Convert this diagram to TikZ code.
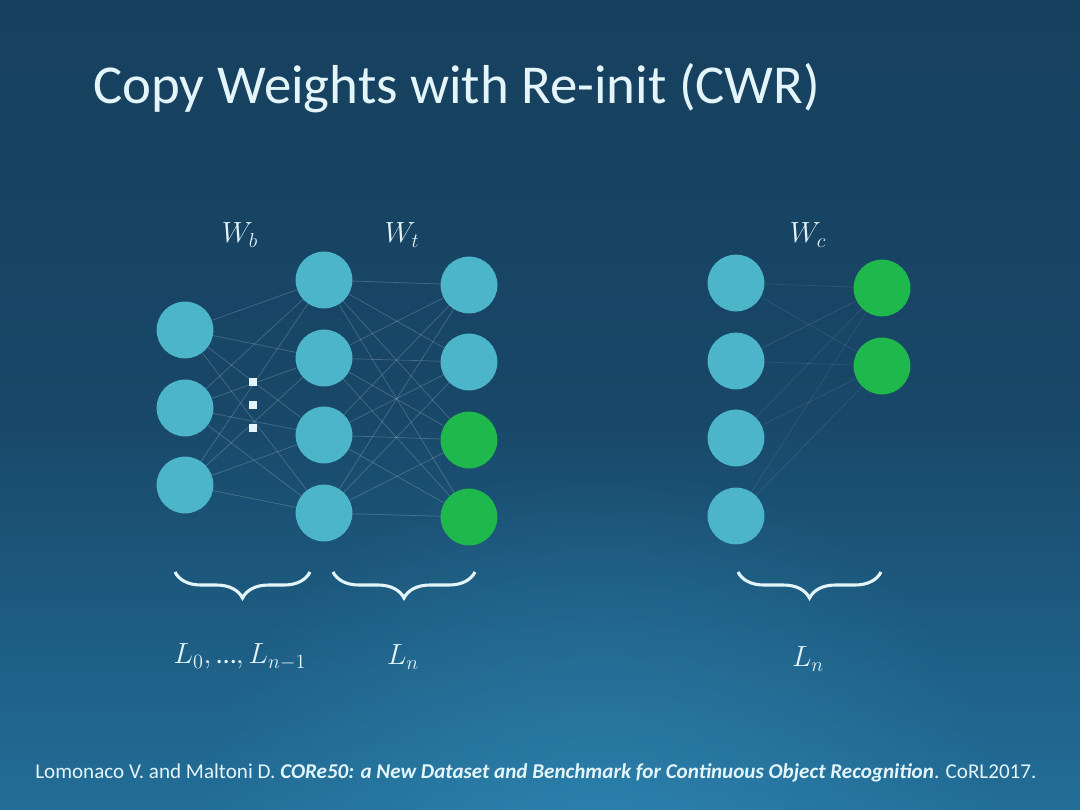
\documentclass[tikz,border=0pt]{standalone}
\usepackage{amsmath}
\usepackage{fontspec}
\setmainfont{Carlito}
\usetikzlibrary{decorations.pathreplacing,fadings}
\definecolor{bgtop}{HTML}{17405E}
\definecolor{bgmid}{HTML}{184767}
\definecolor{bgbot}{HTML}{226E98}
\definecolor{bglight}{HTML}{3B9DCB}
\definecolor{text}{HTML}{E4F5FA}
\definecolor{cellblue}{HTML}{4CB5CA}
\definecolor{cellgreen}{HTML}{1EB84C}
\tikzfading[name=glow, inner color=transparent!0, outer color=transparent!100]
\tikzset{
  unit/.style={circle, fill=cellblue, minimum size=1.42cm, inner sep=0pt},
  fresh/.style={unit, fill=cellgreen},
  wire/.style={draw=white, draw opacity=0.2, line width=0.5pt},
  faint/.style={draw=white, draw opacity=0.09, line width=0.5pt},
  brc/.style={draw=text, line width=2.2pt, decorate,
    decoration={brace, mirror, amplitude=0.65cm}},
  labw/.style={text=text, font=\fontsize{20}{24}\selectfont},
  dotsq/.style={fill=text, minimum size=0.18cm, inner sep=0pt},
  every node/.style={text=text}
}

\begin{document}
\begin{tikzpicture}[x=0.025cm, y=-0.025cm]
  \useasboundingbox (0,0) rectangle (1080,810);
  % slide background
  \begin{scope}
    \clip (0,0) rectangle (1080,810);
    \shade[top color=bgtop, bottom color=bgbot, middle color=bgmid] (0,0) rectangle (1080,810);
    \fill[bglight, path fading=glow, fill opacity=0.45] (600,880) circle (420);
  \end{scope}

  \node[anchor=base west, inner sep=0pt, font=\fontsize{39}{46}\selectfont, text=text]
    (title) at (93,103) {Copy Weights with Re-init (CWR)};

  % old network
  \foreach \y [count=\i] in {330,408,485}
    \node[unit] (a\i) at (185,\y) {};
  \foreach \y [count=\i] in {280,358,435,513}
    \node[unit] (b\i) at (324,\y) {};
  \node[unit] (c1) at (469,285) {};
  \node[unit] (c2) at (469,362) {};
  \node[fresh] (c3) at (469,440) {};
  \node[fresh] (c4) at (469,517) {};

  \foreach \i in {1,2,3}
    \foreach \j in {1,...,4}
      \draw[wire] (a\i) -- (b\j);
  \foreach \i in {1,...,4}
    \foreach \j in {1,...,4}
      \draw[wire] (b\i) -- (c\j);

  \foreach \y [count=\i] in {382,405,428}
    \node[dotsq] (d\i) at (253,\y) {};

  % consolidated head
  \foreach \y [count=\i] in {283,361,438,516}
    \node[unit] (e\i) at (736,\y) {};
  \node[fresh] (f1) at (882,288) {};
  \node[fresh] (f2) at (882,366) {};
  \foreach \i in {1,...,4}
    \foreach \j in {1,2}
      \draw[faint] (e\i) -- (f\j);

  \node[labw] (wb) at (240,235) {$W_b$};
  \node[labw] (wt) at (402,235) {$W_t$};
  \node[labw] (wc) at (808,235) {$W_c$};

  \draw[brc] (175,572) -- (310,572);
  \draw[brc] (333,572) -- (475,572);
  \draw[brc] (738,572) -- (881,572);

  \node[labw] (l0) at (240,657) {$L_0,\text{…},L_{n-1}$};
  \node[labw] (ln) at (403,657) {$L_n$};
  \node[labw] (lc) at (808,659) {$L_n$};

  \node[anchor=base west, inner sep=0pt, font=\fontsize{15}{18}\selectfont, text=text]
    (cite) at (35,778) {Lomonaco V. and Maltoni D. \textbf{\textit{CORe50: a New Dataset and Benchmark for Continuous Object Recognition}}. CoRL2017.};
\end{tikzpicture}
\end{document}
